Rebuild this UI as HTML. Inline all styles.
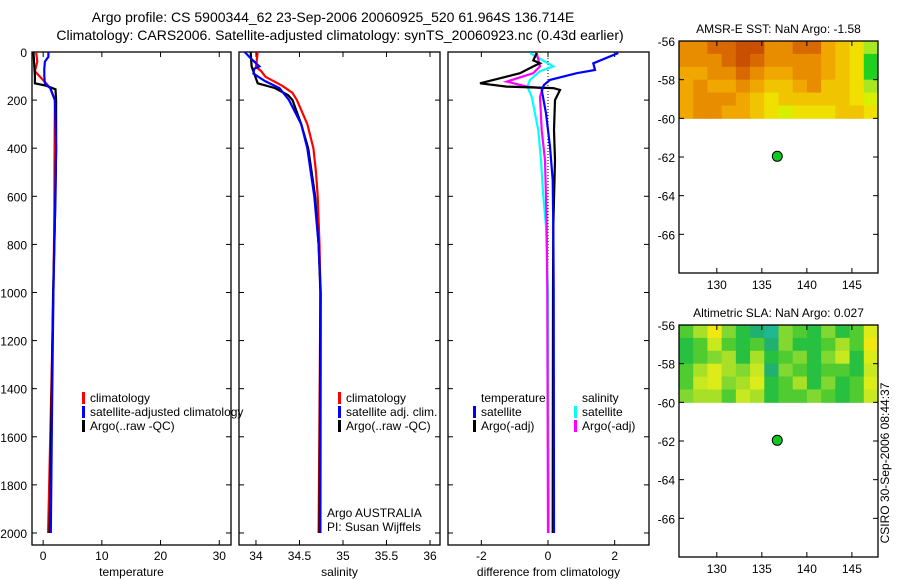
<!DOCTYPE html>
<html><head><meta charset="utf-8"><style>
body{margin:0;background:#fff;}
svg{display:block;font-family:"Liberation Sans",sans-serif;}
text{font-size:12px;fill:#000;}
</style></head><body>
<svg id="fig" width="900" height="580" viewBox="0 0 900 580" xmlns="http://www.w3.org/2000/svg">
<text x="333" y="22" text-anchor="middle" style="font-size:14px">Argo profile: CS 5900344_62 23-Sep-2006 20060925_520 61.964S 136.714E</text>
<text x="340" y="40" text-anchor="middle" style="font-size:14px">Climatology: CARS2006. Satellite-adjusted climatology: synTS_20060923.nc (0.43d earlier)</text>
<text transform="translate(889,463) rotate(-90)" text-anchor="middle" style="font-size:12px">CSIRO 30-Sep-2006 08:44:37</text>
</svg>
<script>
// ---- data ----
const depthTicks=[0,200,400,600,800,1000,1200,1400,1600,1800,2000];
const tempTicks=[0,10,20,30];
const salTicks=[34,34.5,35,35.5,36];
const diffTicks=[-2,0,2];
const latTicks=[-56,-58,-60,-62,-64,-66];
const lonTicks=[130,135,140,145];
const tClimD=[0,40,80,104,130,150,200,400,700,1000,1500,2000];
const tClimV=[-1.2,-1.0,-1.4,-0.5,0.5,1.2,2.0,1.95,1.9,1.75,1.3,0.85];
const tSatD=[0,20,40,70,100,130,150,200,400,700,1000,1500,2000];
const tSatV=[0.9,0.9,0.3,0.2,0.2,0.3,1.2,2.0,2.2,2.0,1.75,1.5,1.3];
const tArgoD=[0,60,100,130,140,155,200,400,600,1000,1500,2000];
const tArgoV=[-1.65,-1.5,-1.4,-1.4,0.5,2.1,2.2,2.2,2.1,1.7,1.4,1.1];
const sClimD=[0,62,80,103,140,170,200,250,300,400,500,600,800,1000,2000];
const sClimV=[34.02,34.0,34.06,34.11,34.3,34.42,34.47,34.53,34.59,34.66,34.69,34.71,34.73,34.74,34.72];
const sSatD=[0,30,60,70,90,120,150,200,300,400,600,800,1000,2000];
const sSatV=[33.87,33.95,34.04,33.98,33.97,34.1,34.27,34.38,34.52,34.59,34.67,34.72,34.745,34.74];
const sArgoD=[0,60,90,130,150,180,200,300,400,600,800,1000,2000];
const sArgoV=[33.94,33.95,33.98,34.02,34.22,34.37,34.42,34.52,34.6,34.68,34.72,34.74,34.73];
const dTSatD=[4,47,75,88,116,137,158,255,394,532,726,1000,2000];
const dTSatV=[2.11,1.36,1.41,0.86,0.06,-0.12,-0.19,-0.06,0.06,0.14,0.16,0.17,0.18];
const dTArgoD=[4,35,47,60,88,130,144,150,158,200,325,450,726,1000,2000];
const dTArgoV=[-0.34,-0.44,-0.24,-0.44,-0.84,-2.04,-1.24,0.16,0.36,0.21,0.18,0.21,0.16,0.15,0.14];
const dSArgoD=[4,60,88,123,144,150,186,325,450,600,726,1000,2000];
const dSArgoV=[-0.34,-0.24,-0.44,-1.24,-0.64,-0.15,-0.24,-0.19,-0.09,-0.06,-0.04,-0.02,0.0];
const dSSatD=[4,35,60,80,116,144,186,325,450,600,726,1000,2000];
const dSSatV=[-0.54,-0.15,0.16,-0.24,-0.54,-0.62,-0.49,-0.29,-0.21,-0.14,-0.06,0.0,0.03];
const sstGrid=[
[3,3,2,2,1,1,3,3,2,2,4,5,6,8],
[3,3,3,2,1,2,3,3,3,3,4,5,6,9],
[4,4,3,3,2,3,4,4,3,3,4,5,6,9],
[4,3,4,4,3,4,5,5,4,3,5,5,6,8],
[4,3,3,3,4,5,6,5,5,5,5,5,6,7],
[4,3,3,4,4,5,6,7,6,6,6,5,5,6]];
const slaGrid=[
[3,5,8,4,2,1,0,4,3,2,4,2,3,7],
[2,3,6,3,2,3,1,4,2,2,3,5,3,8],
[2,3,4,5,2,5,2,3,4,2,4,6,2,7],
[3,5,7,5,4,6,1,4,3,2,3,3,2,6],
[3,6,7,4,5,7,2,3,5,2,4,2,3,7],
[4,5,5,3,6,5,2,3,3,4,3,2,3,6]];
const argoLon=136.714, argoLat=-61.964;

const svg=document.getElementById('fig');
const NS='http://www.w3.org/2000/svg';
function mk(tag,attrs,name){const e=document.createElementNS(NS,tag);for(const k in attrs)e.setAttribute(k,attrs[k]);


svg.appendChild(e);return e;}
function txt(x,y,s,anchor,name){const t=mk('text',{x:x,y:y,'text-anchor':anchor||'start'},name);t.textContent=s;return t;}

const yTop=52,yBot=545,dMax=2050;
const yD=d=>yTop+d*(yBot-yTop)/dMax;
function panel(x0,x1,xmin,xmax,xticks,xlabel,name,showY){
  const xs=v=>x0+(v-xmin)*(x1-x0)/(xmax-xmin);
  mk('rect',{x:x0,y:yTop,width:x1-x0,height:yBot-yTop,fill:'none',stroke:'#000','stroke-width':1.3},name+'-frame');
  depthTicks.forEach(d=>{const y=yD(d);
    mk('line',{x1:x0,y1:y,x2:x0+5,y2:y,stroke:'#000'},name+'-ytick');
    mk('line',{x1:x1,y1:y,x2:x1-5,y2:y,stroke:'#000'},name+'-ytick');
    if(showY) txt(x0-5,y+5,String(d),'end','depth-tick-label');});
  xticks.forEach(v=>{const x=xs(v);
    mk('line',{x1:x,y1:yBot,x2:x,y2:yBot-5,stroke:'#000'},name+'-xtick');
    mk('line',{x1:x,y1:yTop,x2:x,y2:yTop+5,stroke:'#000'},name+'-xtick');
    txt(x,yBot+15,String(v),'middle',name+'-xtick-label');});
  txt((x0+x1)/2,yBot+31,xlabel,'middle',name+'-x-axis-title');
  return xs;
}
function series(xs,D,V,color,name,w){
  const pts=D.map((d,i)=>xs(V[i]).toFixed(1)+','+yD(d).toFixed(1)).join(' ');
  mk('polyline',{points:pts,fill:'none',stroke:color,'stroke-width':w||2.2},name);
}
function legend(x,y,color,label){
  mk('rect',{x:x,y:y-10,width:3,height:12,fill:color},'legend-marker');
  txt(x+8,y,label,'start','legend-entry');
}
const xT=panel(32,231,-1.9,32,tempTicks,'temperature','temperature-panel',true);
series(xT,tClimD,tClimV,'#f00','temp-climatology-line');
series(xT,tArgoD,tArgoV,'#000','temp-argo-line');
series(xT,tSatD,tSatV,'#00f','temp-satellite-line');
legend(82,402,'#f00','climatology');legend(82,416,'#00f','satellite-adjusted climatology');legend(82,430,'#000','Argo(..raw -QC)');
const xS=panel(239,440,33.805,36.115,salTicks,'salinity','salinity-panel',false);
series(xS,sClimD,sClimV,'#f00','sal-climatology-line');
series(xS,sArgoD,sArgoV,'#000','sal-argo-line');
series(xS,sSatD,sSatV,'#00f','sal-satellite-line');
legend(338,402,'#f00','climatology');legend(338,416,'#00f','satellite adj. clim.');legend(338,430,'#000','Argo(..raw -QC)');
txt(327,517,'Argo AUSTRALIA','start','data-centre-label');
txt(327,531,'PI: Susan Wijffels','start','pi-label');
const xF=panel(448,649,-3,3.03,diffTicks,'difference from climatology','difference-panel',false);
mk('line',{x1:xF(0),y1:yTop,x2:xF(0),y2:yBot-10,stroke:'#000','stroke-dasharray':'1,2'},'zero-reference-line');
series(xF,dSSatD,dSSatV,'#0ff','sal-diff-satellite-line');
series(xF,dSArgoD,dSArgoV,'#f0f','sal-diff-argo-line');
series(xF,dTArgoD,dTArgoV,'#000','temp-diff-argo-line');
series(xF,dTSatD,dTSatV,'#00f','temp-diff-satellite-line');
txt(481,402,'temperature','start','legend-heading-temperature');
txt(582,402,'salinity','start','legend-heading-salinity');
legend(473,416,'#00f','satellite');legend(473,430,'#000','Argo(-adj)');
legend(574,416,'#0ff','satellite');legend(574,430,'#f0f','Argo(-adj)');

const sstCols=['#b83c00','#c85000','#d86800','#e88c00','#f0a800','#f0c400','#f0e000','#d8f000','#a8e820','#20d020'];
const slaCols=['#20b890','#20b070','#28c040','#50cc30','#80d830','#a8e028','#c8e820','#dcec18','#f0e810'];
function map(y0,y1,grid,cols,title,name){
  const x0=679,x1=878,lonMin=125.8,lonMax=147.9;
  const xs=v=>x0+(v-lonMin)*(x1-x0)/(lonMax-lonMin);
  const ys=v=>y0+(-56-v)*(y1-y0)/12;
  const nr=grid.length,nc=grid[0].length;
  const cw=(x1-x0)/nc,ch=(ys(-60)-y0)/nr;
  grid.forEach((row,r)=>row.forEach((v,c)=>{
    mk('rect',{x:x0+c*cw,y:y0+r*ch,width:cw+0.5,height:ch+0.5,fill:cols[v]},name+'-cell');}));
  mk('rect',{x:x0,y:y0,width:x1-x0,height:y1-y0,fill:'none',stroke:'#000','stroke-width':1.3},name+'-frame');
  latTicks.forEach(v=>{const y=ys(v);
    mk('line',{x1:x0,y1:y,x2:x0+5,y2:y,stroke:'#000'},name+'-ytick');
    mk('line',{x1:x1,y1:y,x2:x1-5,y2:y,stroke:'#000'},name+'-ytick');
    txt(x0-4,y+5,String(v),'end',name+'-lat-label');});
  lonTicks.forEach(v=>{const x=xs(v);
    mk('line',{x1:x,y1:y0,x2:x,y2:y0+5,stroke:'#000'},name+'-xtick');
    mk('line',{x1:x,y1:y1,x2:x,y2:y1-5,stroke:'#000'},name+'-xtick');
    txt(x,y1+16,String(v),'middle',name+'-lon-label');});
  txt((x0+x1)/2,y0-8,title,'middle',name+'-title');
  mk('circle',{cx:xs(argoLon),cy:ys(argoLat),r:5,fill:'#10c820',stroke:'#000','stroke-width':1},name+'-argo-marker');
}
map(41,273,sstGrid,sstCols,'AMSR-E SST: NaN Argo: -1.58','sst-map');
map(325,557,slaGrid,slaCols,'Altimetric SLA: NaN Argo: 0.027','sla-map');
</script>
</body></html>
